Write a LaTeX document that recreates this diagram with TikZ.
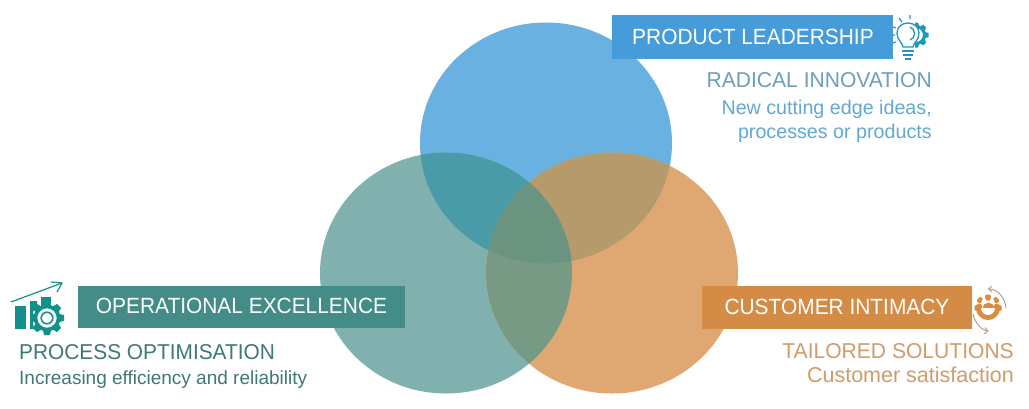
\documentclass[tikz,border=0pt]{standalone}
\usepackage{fontspec}
\setmainfont{Liberation Sans}
\usetikzlibrary{arrows.meta}
\definecolor{cblue}{HTML}{69B1E0}
\definecolor{cteal}{HTML}{80B1AF}
\definecolor{corange}{HTML}{DFA873}
\definecolor{mixbt}{HTML}{4A9BA8}
\definecolor{mixbo}{HTML}{B59A6C}
\definecolor{mixto}{HTML}{779A85}
\definecolor{mixall}{HTML}{6A9480}
\definecolor{bandblue}{HTML}{459CD9}
\definecolor{bandteal}{HTML}{438C87}
\definecolor{bandorange}{HTML}{D48B45}
\definecolor{txtblue}{HTML}{62A8D2}
\definecolor{txthead}{HTML}{6D9FB8}
\definecolor{txtteal}{HTML}{3F7874}
\definecolor{txtorange}{HTML}{D09C68}
\definecolor{icoteal}{HTML}{12918A}
\definecolor{icoblue}{HTML}{1E96BE}
\definecolor{icoorange}{HTML}{DD8B3C}
\definecolor{icoarrow}{HTML}{B39A80}
\tikzset{
  bandlabel/.style={text=white,inner sep=0pt,xscale=.95,font=\fontsize{22}{24}\selectfont},
  heading/.style={inner sep=0pt,xscale=.98,font=\fontsize{21.5}{24}\selectfont},
  sub/.style={inner sep=0pt,font=\fontsize{19.7}{24}\selectfont},
}
\newcommand{\gearat}[5]{%
  \foreach \a in {0,45,...,315}{
    \fill[#4,shift={(#1,#2)},rotate=\a] (#3*0.72,-#3*0.24) -- (#3,-#3*0.17) -- (#3,#3*0.17) -- (#3*0.72,#3*0.24) -- cycle;
  }
  \draw[#4,line width=#5] (#1,#2) circle[radius=#3*0.68];
}
\begin{document}
\begin{tikzpicture}[x=1pt,y=-1pt]
\useasboundingbox (0,0) rectangle (1029,408);
\fill[white] (0,0) rectangle (1029,408);
\def\blue{(546,143) ellipse [x radius=126,y radius=120.5]}
\def\teal{(446,273) ellipse [x radius=126,y radius=120.5]}
\def\orng{(612,273) ellipse [x radius=126,y radius=120.5]}
\fill[cblue] \blue;
\fill[cteal] \teal;
\fill[corange] \orng;
\begin{scope}\clip \blue; \fill[mixbt] \teal; \end{scope}
\begin{scope}\clip \blue; \fill[mixbo] \orng; \end{scope}
\begin{scope}\clip \teal; \fill[mixto] \orng; \end{scope}
\begin{scope}\clip \blue; \clip \teal; \fill[mixall] \orng; \end{scope}

\fill[bandblue] (612,15) rectangle (893,59);
\fill[bandteal] (78,286) rectangle (405,328);
\fill[bandorange] (702,286) rectangle (972,329);

\node[bandlabel] (pl) at (753,37) {PRODUCT LEADERSHIP};
\node[bandlabel] (oe) at (241.5,306) {OPERATIONAL EXCELLENCE};
\node[bandlabel] (ci) at (837,306.5) {CUSTOMER INTIMACY};

\node[heading,text=txthead,anchor=east] (ri) at (932,80) {RADICAL INNOVATION};
\node[sub,text=txtblue,anchor=east] (s1) at (932,109) {New cutting edge ideas,};
\node[sub,text=txtblue,anchor=east] (s2) at (932,133) {processes or products};
\node[heading,text=txtteal,anchor=west,xscale=.99] (po) at (19,352) {PROCESS OPTIMISATION};
\node[sub,text=txtteal,anchor=west,font=\fontsize{19}{24}\selectfont] (ie) at (19,380) {Increasing efficiency and reliability};
\node[heading,text=txtorange,anchor=east] (ts) at (1014,351) {TAILORED SOLUTIONS};
\node[sub,text=txtorange,anchor=east,font=\fontsize{21.5}{24}\selectfont] (cs) at (1014,375) {Customer satisfaction};

% bulb icon
\begin{scope}[icoblue]
 \gearat{916}{35}{12.5}{icoblue}{3pt}
 \fill[white] (896,20) rectangle (915,52);
 \fill[white] (908,34) circle[radius=11];
 \draw[line width=1.3pt] (903,47) .. controls (902,42) and (897,40) .. (897,33) .. controls (897,27) and (902,23) .. (908,23) .. controls (914,23) and (919,27) .. (919,33) .. controls (919,40) and (914,42) .. (913,47) -- cycle;
 \draw[line width=1.3pt] (910,27) .. controls (916,29) and (916,38) .. (910,40);
 \draw[line width=1.6pt] (902,51) -- (914,51) (903,55) -- (913,55) (905,59) -- (911,59);
 \draw[line width=1.2pt] (910,15) -- (910,19) (899,18) -- (902,22) (893,27) -- (896,28) (892,35) -- (895,35) (893,43) -- (896,42);
\end{scope}

% operational excellence icon
\begin{scope}[icoteal]
 \fill (15,306) rectangle (26,329);
 \fill (30,301) -- (37,301) -- (37,306) -- (33,312) -- (33,322) -- (34,329) -- (30,329) -- cycle;
 \fill (41,297) rectangle (51,306);
 \gearat{47}{318}{17}{icoteal}{3.6pt}
 \draw[line width=1.6pt] (47,318) circle[radius=5.8];
 \draw[line width=1.2pt,line join=round] (11,302) -- (62,283);
 \draw[line width=1.2pt,line join=round] (51,282) -- (62,283) -- (57,292);
\end{scope}

% customer intimacy icon
\begin{scope}[icoorange]
 \foreach \a in {0,45,...,180}{
  \fill[shift={(988,308)},rotate=\a] (10,-3) -- (13.5,-2.4) -- (13.5,2.4) -- (10,3) -- cycle;
 }
 \fill (976,308) -- (1000,308) arc[start angle=0,end angle=180,radius=12] -- cycle;
 \fill[white] (981,308) -- (995,308) arc[start angle=0,end angle=180,radius=7] -- cycle;
 \fill (988,298) circle[radius=2.8];
 \fill (979.5,301) circle[radius=2.3];
 \fill (996.5,301) circle[radius=2.3];
 \fill (982.5,308) .. controls (982.5,300.5) and (993.5,300.5) .. (993.5,308) -- cycle;
 \fill (975,308) .. controls (975,302.5) and (984,302) .. (982,308) -- cycle;
 \fill (1001,308) .. controls (1001,302.5) and (992,302) .. (994,308) -- cycle;
 \draw[icoarrow,line width=.9pt] (989,289) .. controls (998,289) and (1005,298) .. (1006,308);
 \draw[icoarrow,line width=.9pt] (992,286) -- (988.5,289) -- (992,292);
 \draw[icoarrow,line width=.9pt] (973,314) .. controls (975,323) and (981,330) .. (988,331);
 \draw[icoarrow,line width=.9pt] (985,327.5) -- (988,331) -- (984,334);
\end{scope}
\end{tikzpicture}
\end{document}
